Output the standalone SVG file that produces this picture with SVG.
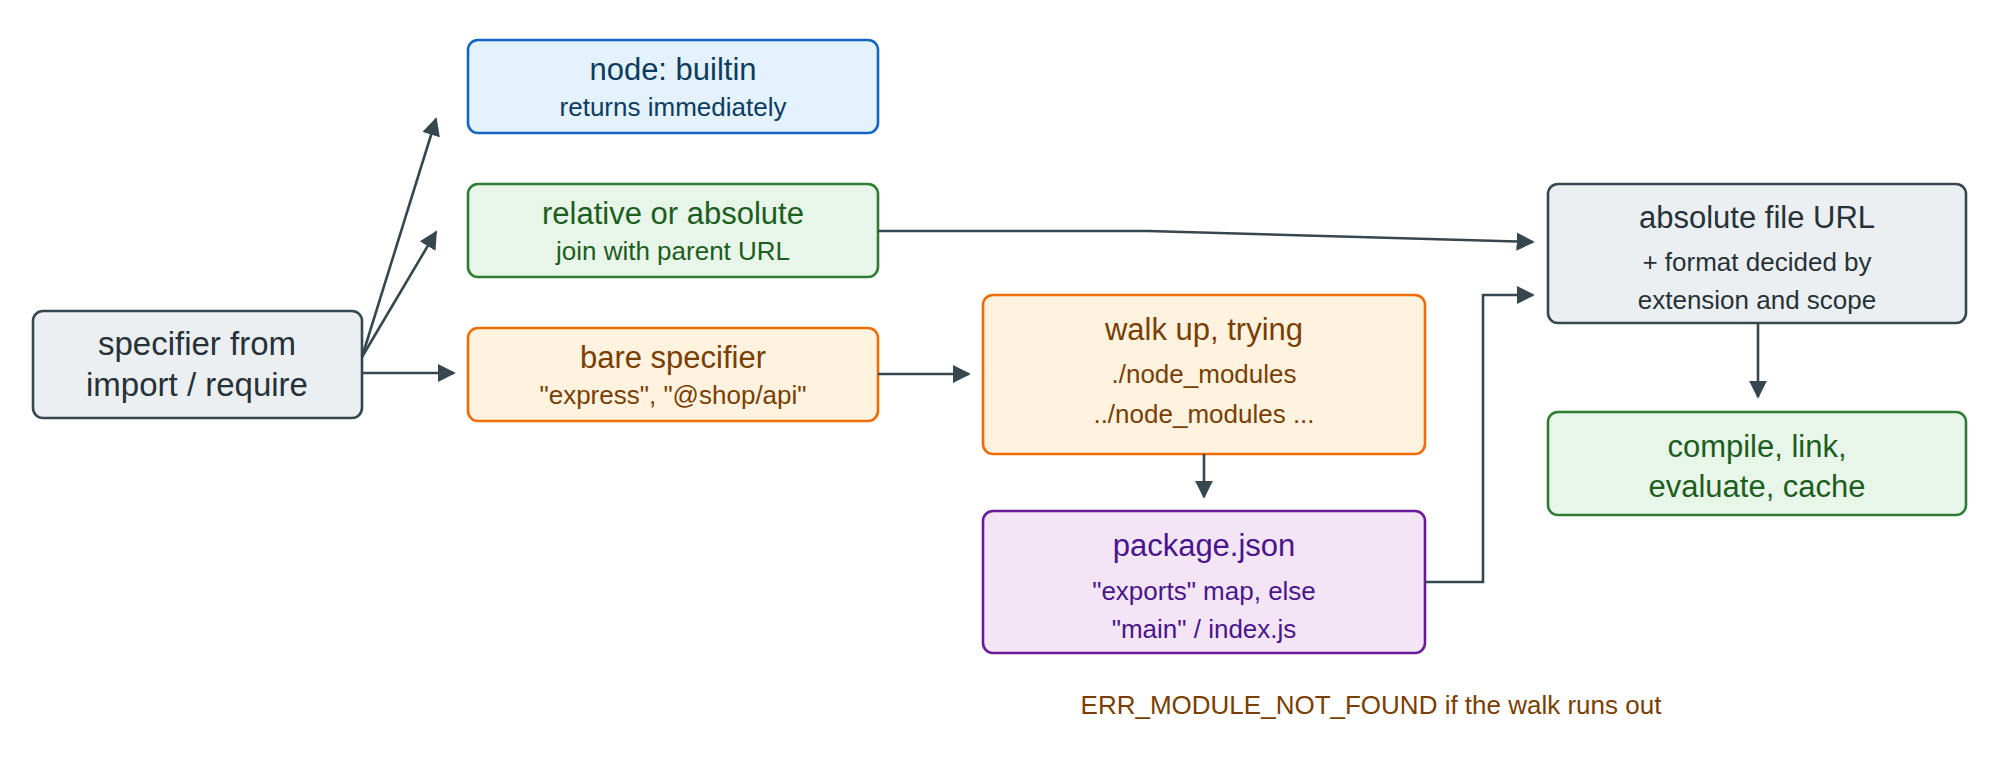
<svg xmlns="http://www.w3.org/2000/svg" width="2000" height="770" viewBox="0 0 2000 770">
<style>
text{font-family:"Liberation Sans",Arial,sans-serif;text-anchor:middle}
.b{stroke-width:2.6}
.t{font-size:31px}.s{font-size:26px}
.c{fill:none;stroke:#37474f;stroke-width:2.6}
</style>
<defs><marker id="a" viewBox="0 0 10 10" refX="9" refY="5" markerWidth="8" markerHeight="8" markerUnits="userSpaceOnUse" orient="auto"><path d="M0,0L10,5L0,10z" fill="#37474f" transform="scale(1)"/></marker>
<marker id="m" viewBox="0 0 10 10" refX="9" refY="5" markerWidth="7" markerHeight="7" orient="auto"><path d="M0,0L10,5L0,10z" fill="#37474f"/></marker></defs>
<rect width="2000" height="770" fill="#fff"/>
<g id="spec"><rect class="b" x="33" y="311" width="329" height="107" rx="10" fill="#eceff1" stroke="#37474f"/><text x="197" y="355" font-size="33" fill="#263238">specifier from</text><text x="197" y="396" font-size="33" fill="#263238">import / require</text></g>
<g id="builtin"><rect class="b" x="468" y="40" width="410" height="93" rx="10" fill="#e3f2fd" stroke="#1565c0"/><text class="t" x="673" y="80" fill="#0d3c61">node: builtin</text><text class="s" x="673" y="116" fill="#0d3c61">returns immediately</text></g>
<g id="relative"><rect class="b" x="468" y="184" width="410" height="93" rx="10" fill="#e8f5e9" stroke="#2e7d32"/><text class="t" x="673" y="224" fill="#1b5e20">relative or absolute</text><text class="s" x="673" y="260" fill="#1b5e20">join with parent URL</text></g>
<g id="bare"><rect class="b" x="468" y="328" width="410" height="93" rx="10" fill="#fff3e0" stroke="#ef6c00"/><text class="t" x="673" y="368" fill="#7a3e00">bare specifier</text><text class="s" x="673" y="404" fill="#7a3e00">"express", "@shop/api"</text></g>
<g id="walk"><rect class="b" x="983" y="295" width="442" height="159" rx="10" fill="#fff3e0" stroke="#ef6c00"/><text class="t" x="1204" y="340" fill="#7a3e00">walk up, trying</text><text class="s" x="1204" y="383" fill="#7a3e00">./node_modules</text><text class="s" x="1204" y="423" fill="#7a3e00">../node_modules ...</text></g>
<g id="pkg"><rect class="b" x="983" y="511" width="442" height="142" rx="10" fill="#f3e5f5" stroke="#6a1b9a"/><text class="t" x="1204" y="556" fill="#4a148c">package.json</text><text class="s" x="1204" y="600" fill="#4a148c">"exports" map, else</text><text class="s" x="1204" y="638" fill="#4a148c">"main" / index.js</text></g>
<g id="abs"><rect class="b" x="1548" y="184" width="418" height="139" rx="10" fill="#eceff1" stroke="#37474f"/><text class="t" x="1757" y="228" fill="#263238">absolute file URL</text><text class="s" x="1757" y="271" fill="#263238">+ format decided by</text><text class="s" x="1757" y="309" fill="#263238">extension and scope</text></g>
<g id="compile"><rect class="b" x="1548" y="412" width="418" height="103" rx="10" fill="#e8f5e9" stroke="#2e7d32"/><text class="t" x="1757" y="457" fill="#1b5e20">compile, link,</text><text class="t" x="1757" y="497" fill="#1b5e20">evaluate, cache</text></g>
<g id="note"><text x="1371" y="714" font-size="26" fill="#7a3e00">ERR_MODULE_NOT_FOUND if the walk runs out</text></g>
<g id="connectors">
<path class="c" d="M362,357L436,119" marker-end="url(#m)"/>
<path class="c" d="M362,357L436,232" marker-end="url(#m)"/>
<path class="c" d="M362,373L454,373" marker-end="url(#m)"/>
<path class="c" d="M878,374L969,374" marker-end="url(#m)"/>
<path class="c" d="M878,231L1148,231L1533,242" marker-end="url(#m)"/>
<path class="c" d="M1204,454L1204,497" marker-end="url(#m)"/>
<path class="c" d="M1425,582L1483,582L1483,295L1533,295" marker-end="url(#m)"/>
<path class="c" d="M1758,323L1758,397" marker-end="url(#m)"/>
</g>
</svg>
